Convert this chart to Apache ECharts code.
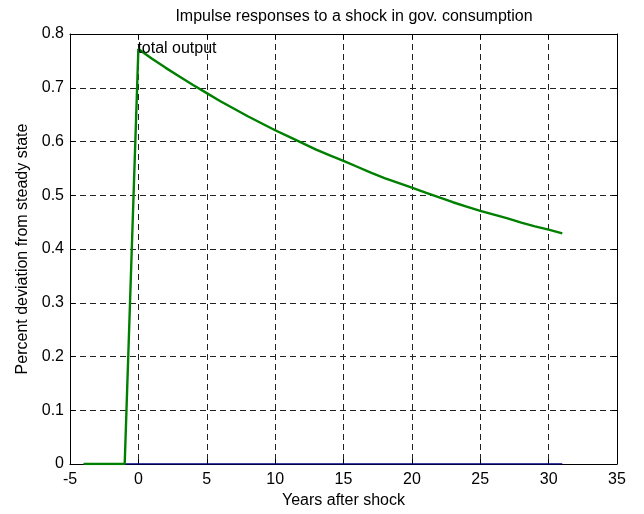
<!DOCTYPE html>
<html>
<head>
<meta charset="utf-8">
<script src="https://cdn.jsdelivr.net/npm/echarts@6/dist/echarts.min.js"></script>
<style>
html,body{margin:0;padding:0;background:#fff;}
#chart{width:644px;height:514px;}
</style>
</head>
<body>
<div id="chart"></div>
<script>
// Years after shock
var years = [-4,-3,-2,-1,0,1,2,3,4,5,6,7,8,9,10,11,12,13,14,15,16,17,18,19,20,21,22,23,24,25,26,27,28,29,30,31];
// total output response (percent deviation)
var totalOutput = [0,0,0,0,0.772,0.754,0.737,0.721,0.705,0.690,0.675,0.661,0.647,0.634,0.621,0.609,0.597,0.585,0.574,0.564,0.553,0.542,0.532,0.523,0.514,0.505,0.496,0.487,0.479,0.471,0.464,0.457,0.449,0.442,0.436,0.429];
// zero baseline
var baseline = [0,0,0,0,0,0,0,0,0,0,0,0,0,0,0,0,0,0,0,0,0,0,0,0,0,0,0,0,0,0,0,0,0,0,0,0];
var xTicks = [-5,0,5,10,15,20,25,30,35];
var yTicks = [0,0.1,0.2,0.3,0.4,0.5,0.6,0.7,0.8];
var titleText = 'Impulse responses to a shock in gov. consumption';
var xName = 'Years after shock';
var yName = 'Percent deviation from steady state';
var annotation = 'total output';

var FONT = 'Liberation Sans, Arial, Helvetica, sans-serif';
var FS = 16;
function pair(xs, ys){ return xs.map(function(x,i){ return [x, ys[i]]; }); }

var chart = echarts.init(document.getElementById('chart'), null, {renderer:'canvas'});
var dash = {type:[6,4], color:'#222', width:1};
var tick = {show:true, inside:true, length:5, lineStyle:{color:'#000'}};
var line = {show:true, onZero:false, lineStyle:{color:'#000', width:1}};
chart.setOption({
  backgroundColor:'#fff',
  animation:false,
  title:{text:titleText, left:349, top:4, textAlign:'center',
    textStyle:{fontFamily:FONT, fontSize:FS, fontWeight:'normal', color:'#000'}},
  grid:{left:70, right:27, top:34, bottom:49, show:false},
  xAxis:[{
    type:'value', min:xTicks[0], max:xTicks[xTicks.length-1], interval:5,
    name:xName, nameLocation:'middle', nameGap:29,
    nameTextStyle:{fontFamily:FONT, fontSize:FS, color:'#000'},
    axisLine:line, axisTick:tick,
    axisLabel:{fontFamily:FONT, fontSize:FS, color:'#000', margin:8},
    splitLine:{show:true, lineStyle:dash}
  },{
    type:'value', position:'top', min:xTicks[0], max:xTicks[xTicks.length-1], interval:5,
    axisLine:line, axisTick:tick,
    axisLabel:{show:false}, splitLine:{show:false}
  }],
  yAxis:[{
    type:'value', min:yTicks[0], max:yTicks[yTicks.length-1], interval:0.1,
    name:yName, nameLocation:'middle', nameGap:38,
    nameTextStyle:{fontFamily:FONT, fontSize:FS, color:'#000'},
    axisLine:line, axisTick:tick,
    axisLabel:{fontFamily:FONT, fontSize:FS, color:'#000', margin:6},
    splitLine:{show:true, lineStyle:dash}
  },{
    type:'value', position:'right', min:yTicks[0], max:yTicks[yTicks.length-1], interval:0.1,
    axisLine:line, axisTick:tick,
    axisLabel:{show:false}, splitLine:{show:false}
  }],
  series:[{
    type:'line', data:pair(years, baseline), showSymbol:false, z:2,
    lineStyle:{color:'#000080', width:1.5}
  },{
    type:'line', data:pair(years, totalOutput), showSymbol:false, z:3,
    lineStyle:{color:'#008000', width:2.4},
    markPoint:{
      symbol:'circle', symbolSize:0,
      data:[{coord:[0, 0.772], value:annotation}],
      label:{show:true, position:'right', distance:-1, formatter:annotation,
        fontFamily:FONT, fontSize:FS, color:'#000'}
    }
  }]
});
</script>
</body>
</html>
